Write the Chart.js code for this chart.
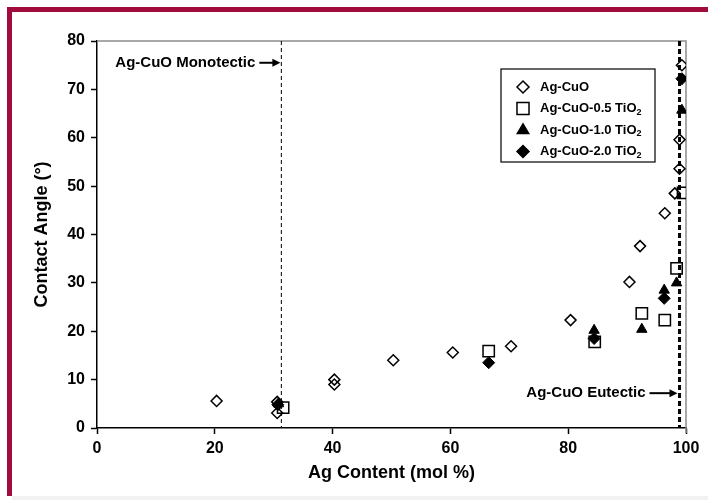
<!DOCTYPE html>
<html>
<head>
<meta charset="utf-8">
<script src="https://cdn.jsdelivr.net/npm/chart.js@4"></script>
<style>
  html, body { margin: 0; padding: 0; background: #fff; }
  #wrap { width: 708px; height: 500px; }
</style>
</head>
<body>
<div id="wrap"><canvas id="contactAngleChart" width="708" height="500"></canvas></div>
<script>
// Ag-CuO (open diamonds)
const agCuOX = [20.3, 30.6, 30.6, 40.3, 40.3, 50.3, 60.4, 70.3, 80.4, 90.4, 92.2, 96.4, 98.1, 98.9, 98.9, 99.3];
const agCuOY = [5.6, 5.4, 3.1, 10.0, 9.0, 14.0, 15.6, 16.9, 22.3, 30.2, 37.6, 44.4, 48.5, 53.6, 59.6, 75.0];
// Ag-CuO-0.5 TiO2 (open squares)
const tio05X = [31.6, 66.5, 84.5, 92.5, 96.4, 98.4, 99.5];
const tio05Y = [4.2, 15.9, 17.8, 23.7, 22.3, 33.0, 48.6];
// Ag-CuO-1.0 TiO2 (filled triangles)
const tio10X = [30.8, 84.4, 92.5, 96.3, 98.4, 99.3];
const tio10Y = [5.0, 20.2, 20.4, 28.5, 30.0, 65.7];
// Ag-CuO-2.0 TiO2 (filled diamonds)
const tio20X = [30.7, 66.5, 84.4, 96.3, 99.3];
const tio20Y = [4.8, 13.5, 18.5, 26.8, 72.2];

const seriesNames = ['Ag-CuO', 'Ag-CuO-0.5 TiO\u2082', 'Ag-CuO-1.0 TiO\u2082', 'Ag-CuO-2.0 TiO\u2082'];
const xTicks = [0, 20, 40, 60, 80, 100];
const yTicks = [0, 10, 20, 30, 40, 50, 60, 70, 80];

// reference compositions
const monotecticX = 31.3;
const eutecticX = 98.9;
const monotecticLabelY = 75.5;
const eutecticLabelY = 7.2;

const tickFont = { family: '"Liberation Sans Narrow", "Liberation Sans", Arial, sans-serif', size: 16, weight: 'bold' };
const titleFont = { family: '"Liberation Sans", Arial, sans-serif', size: 18, weight: 'bold' };

function toPoints(xs, ys) {
    return xs.map(function(x, i) { return { x: x, y: ys[i] }; });
}

function marker(ctx, style, x, y, r, filled) {
    ctx.beginPath();
    if (style === 'rectRot') {
        ctx.moveTo(x, y - r); ctx.lineTo(x + r, y); ctx.lineTo(x, y + r); ctx.lineTo(x - r, y);
    } else if (style === 'rect') {
        const s = r * Math.SQRT1_2;
        ctx.rect(x - s, y - s, 2 * s, 2 * s);
    } else {
        ctx.moveTo(x, y - r); ctx.lineTo(x + r * 0.95, y + r * 0.6); ctx.lineTo(x - r * 0.95, y + r * 0.6);
    }
    ctx.closePath();
    if (filled) { ctx.fillStyle = '#000'; ctx.fill(); }
    ctx.lineWidth = 1.5; ctx.strokeStyle = '#000'; ctx.stroke();
}

function arrow(ctx, x0, x1, y) {
    ctx.lineWidth = 2;
    ctx.beginPath(); ctx.moveTo(x0, y); ctx.lineTo(x1 - 6, y); ctx.stroke();
    ctx.beginPath(); ctx.moveTo(x1, y); ctx.lineTo(x1 - 8, y - 4); ctx.lineTo(x1 - 8, y + 4); ctx.closePath(); ctx.fill();
}

const framePlugin = {
    id: 'frame',
    beforeDraw(chart) {
        const ctx = chart.ctx;
        ctx.save();
        ctx.fillStyle = '#fff';
        ctx.fillRect(0, 0, chart.width, chart.height);
        ctx.fillStyle = '#f2f2f2';
        ctx.fillRect(12, 496, chart.width - 12, 4);
        ctx.fillStyle = '#a10c3c';
        ctx.fillRect(7, 7, chart.width - 7, 5);
        ctx.fillRect(7, 7, 5, 489);
        ctx.restore();
    },
    beforeDatasetsDraw(chart) {
        const ctx = chart.ctx, a = chart.chartArea;
        const xs = chart.scales.x, ys = chart.scales.y;
        ctx.save();
        // plot box top / right
        ctx.strokeStyle = '#8c8c8c';
        ctx.lineWidth = 1.5;
        ctx.beginPath();
        ctx.moveTo(a.left, a.top); ctx.lineTo(a.right, a.top); ctx.lineTo(a.right, a.bottom + 5);
        ctx.stroke();
        ctx.strokeStyle = '#000';
        // monotectic line
        let lx = xs.getPixelForValue(monotecticX);
        ctx.lineWidth = 1;
        ctx.setLineDash([4, 3]);
        ctx.beginPath(); ctx.moveTo(lx, a.top); ctx.lineTo(lx, a.bottom); ctx.stroke();
        // eutectic line
        let ex = xs.getPixelForValue(eutecticX);
        ctx.lineWidth = 3;
        ctx.setLineDash([5, 3]);
        ctx.beginPath(); ctx.moveTo(ex, a.top); ctx.lineTo(ex, a.bottom); ctx.stroke();
        ctx.setLineDash([]);

        // labels with arrows
        ctx.font = 'bold 15px "Liberation Sans", Arial, sans-serif';
        ctx.fillStyle = '#000';
        ctx.textBaseline = 'middle';
        ctx.textAlign = 'right';
        let my = ys.getPixelForValue(monotecticLabelY);
        ctx.fillText('Ag-CuO Monotectic', lx - 26, my);
        arrow(ctx, lx - 22, lx - 1, my);
        let ey = ys.getPixelForValue(eutecticLabelY);
        ctx.fillText('Ag-CuO Eutectic', ex - 34, ey);
        arrow(ctx, ex - 30, ex - 2, ey);
        ctx.restore();
    },
    afterDatasetsDraw(chart) {
        const ctx = chart.ctx, a = chart.chartArea;
        const left = a.right - 185, top = a.top + 28, w = 154, h = 93;
        ctx.save();
        ctx.fillStyle = '#fff';
        ctx.fillRect(left, top, w, h);
        ctx.strokeStyle = '#000';
        ctx.lineWidth = 1.2;
        ctx.strokeRect(left, top, w, h);
        chart.data.datasets.forEach(function(ds, i) {
            const cy = top + 18 + i * 21.5;
            marker(ctx, ds.pointStyle, left + 22, cy, ds.pointStyle === 'rect' ? 8.5 : 6, ds.backgroundColor === '#000');
            const parts = ds.label.split('\u2082');
            ctx.fillStyle = '#000';
            ctx.textBaseline = 'middle';
            ctx.textAlign = 'left';
            ctx.font = 'bold 13px "Liberation Sans", Arial, sans-serif';
            ctx.fillText(parts[0], left + 39, cy);
            if (parts.length > 1) {
                const tw = ctx.measureText(parts[0]).width;
                ctx.font = 'bold 9px "Liberation Sans", Arial, sans-serif';
                ctx.fillText('2', left + 39 + tw, cy + 4);
            }
        });
        ctx.restore();
    }
};

document.addEventListener('DOMContentLoaded', function() {
    const ctx = document.getElementById('contactAngleChart');
    new Chart(ctx, {
        type: 'scatter',
        data: {
            datasets: [{
                label: seriesNames[0],
                data: toPoints(agCuOX, agCuOY),
                pointStyle: 'rectRot', pointRadius: 5.5, borderWidth: 1.5,
                borderColor: '#000', backgroundColor: 'rgba(0,0,0,0)'
            }, {
                label: seriesNames[1],
                data: toPoints(tio05X, tio05Y),
                pointStyle: 'rect', pointRadius: 8, borderWidth: 1.5,
                borderColor: '#000', backgroundColor: 'rgba(0,0,0,0)'
            }, {
                label: seriesNames[2],
                data: toPoints(tio10X, tio10Y),
                pointStyle: 'triangle', pointRadius: 6, borderWidth: 1,
                borderColor: '#000', backgroundColor: '#000'
            }, {
                label: seriesNames[3],
                data: toPoints(tio20X, tio20Y),
                pointStyle: 'rectRot', pointRadius: 6, borderWidth: 1,
                borderColor: '#000', backgroundColor: '#000'
            }]
        },
        options: {
            responsive: false,
            animation: false,
            layout: { padding: { top: 41, left: 12, right: 22, bottom: 0 } },
            plugins: { legend: { display: false }, tooltip: { enabled: false } },
            scales: {
                x: {
                    type: 'linear', min: 0, max: 100,
                    afterBuildTicks: function(s) { s.ticks = xTicks.map(function(v) { return { value: v }; }); },
                    afterFit: function(s) { s.height = 72; },
                    ticks: { color: '#000', font: tickFont, padding: 5 },
                    grid: { drawOnChartArea: false, color: '#000', tickLength: 6, tickWidth: 1.5 },
                    border: { color: '#000', width: 1.5 },
                    title: { display: true, text: 'Ag Content (mol %)', color: '#000', font: titleFont, padding: { top: 0, bottom: 16 } }
                },
                y: {
                    min: 0, max: 80,
                    afterBuildTicks: function(s) { s.ticks = yTicks.map(function(v) { return { value: v }; }); },
                    afterFit: function(s) { s.width = 85; },
                    ticks: { color: '#000', font: tickFont, padding: 6 },
                    grid: { drawOnChartArea: false, color: '#000', tickLength: 6, tickWidth: 1.5 },
                    border: { color: '#000', width: 1.5 },
                    title: { display: true, text: 'Contact Angle (\u00b0)', color: '#000', font: titleFont, padding: { top: 19, bottom: 0 } }
                }
            }
        },
        plugins: [framePlugin]
    });
});
</script>
</body>
</html>
